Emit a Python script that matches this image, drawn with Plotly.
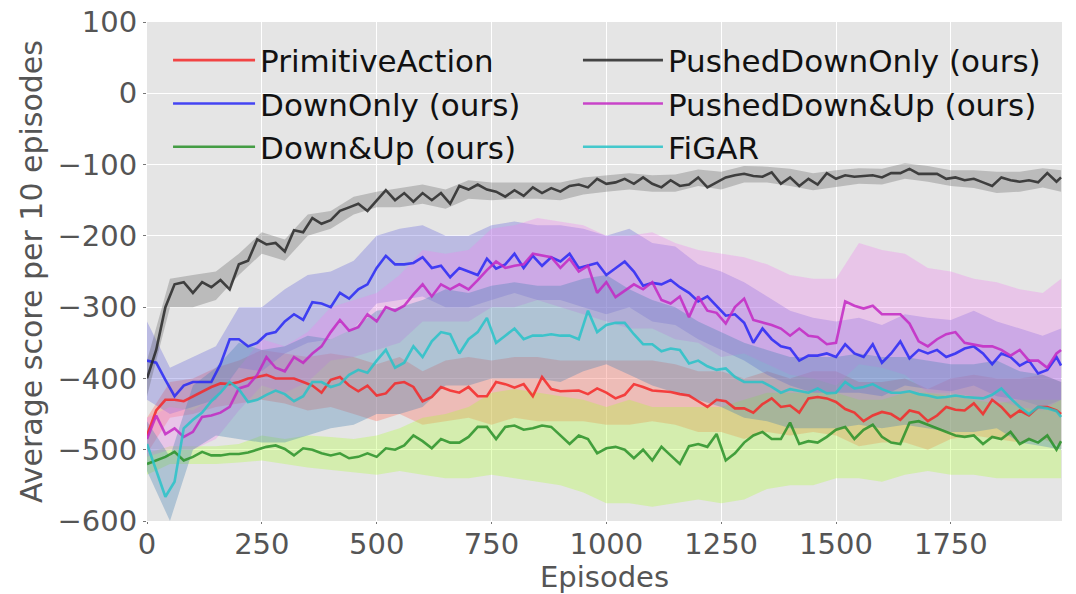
import plotly.graph_objects as go

# ---------------- data ----------------
EPISODES = list(range(0, 1981, 20)) + [1990]
BAND_EPISODES = list(range(0, 1951, 50)) + [1990]

SERIES_NAMES = ["PrimitiveAction", "DownOnly (ours)", "Down&Up (ours)",
                "PushedDownOnly (ours)", "PushedDown&Up (ours)", "FiGAR"]

primitive_action = [
    -480, -445, -430, -430, -432, -425, -418, -412, -407, -408, -405, -400, -398, -395, -400, -400, -400, -405, -410, -420, -402, -398, -410, -418, -410, -424,
    -421, -407, -405, -412, -432, -426, -412, -417, -420, -412, -425, -425, -405, -408, -413, -408, -425, -398, -415, -418, -417, -417, -422, -414, -420,
    -428, -423, -408, -412, -417, -418, -419, -422, -424, -432, -440, -430, -432, -442, -442, -448, -436, -428, -440, -438, -448, -428, -426, -428, -433,
    -443, -448, -460, -452, -447, -450, -458, -445, -448, -460, -452, -440, -444, -445, -435, -450, -430, -440, -454, -445, -452, -440, -440, -445, -450,
]
down_only = [
    -375, -378, -402, -425, -410, -405, -405, -405, -380, -345, -345, -355, -350, -338, -335, -320, -310, -318, -293, -295, -300, -280, -288, -275, -268, -245,
    -228, -240, -240, -238, -230, -245, -242, -258, -245, -250, -255, -232, -246, -240, -225, -245, -228, -242, -230, -236, -225, -245, -242, -238, -255,
    -245, -236, -250, -270, -266, -268, -262, -272, -280, -292, -285, -298, -312, -310, -322, -350, -330, -345, -355, -358, -375, -368, -368, -365, -370,
    -352, -365, -370, -352, -378, -365, -348, -372, -360, -365, -360, -370, -365, -358, -355, -365, -380, -365, -370, -382, -375, -393, -388, -370, -382,
]
down_up = [
    -520, -515, -510, -503, -515, -510, -503, -508, -508, -506, -506, -504, -500, -496, -494, -499, -508, -498, -500, -505, -508, -505, -512, -510, -505, -510,
    -498, -500, -494, -480, -488, -498, -485, -490, -490, -482, -468, -468, -485, -468, -466, -472, -470, -466, -468, -480, -492, -480, -485, -505, -498,
    -496, -500, -512, -500, -515, -496, -508, -520, -495, -492, -496, -478, -515, -505, -490, -480, -475, -485, -485, -462, -492, -488, -490, -482, -472,
    -468, -485, -472, -465, -482, -490, -492, -462, -460, -465, -470, -475, -480, -482, -480, -492, -482, -485, -475, -492, -485, -490, -480, -500, -488,
]
pushed_down_only = [
    -400, -360, -300, -268, -265, -280, -265, -272, -262, -275, -240, -235, -205, -212, -210, -222, -192, -195, -175, -183, -178, -165, -160, -155, -165, -150,
    -136, -150, -140, -152, -140, -150, -140, -155, -130, -135, -128, -135, -138, -145, -136, -144, -132, -140, -133, -138, -130, -128, -132, -120, -127,
    -125, -120, -127, -118, -127, -132, -122, -130, -128, -118, -132, -125, -118, -115, -113, -116, -117, -111, -127, -118, -130, -120, -128, -112, -120,
    -115, -117, -116, -115, -118, -112, -112, -106, -113, -113, -113, -120, -118, -122, -120, -125, -130, -118, -122, -124, -122, -125, -112, -124, -118,
]
pushed_down_up = [
    -485, -452, -478, -470, -482, -475, -454, -452, -448, -440, -414, -410, -395, -370, -385, -390, -370, -378, -365, -355, -335, -318, -333, -328, -310, -320,
    -300, -305, -298, -282, -268, -285, -268, -275, -268, -275, -262, -248, -236, -245, -242, -240, -225, -228, -230, -245, -232, -250, -242, -280, -265,
    -286, -277, -268, -275, -265, -290, -295, -285, -314, -285, -305, -308, -323, -300, -288, -318, -321, -325, -330, -340, -330, -340, -342, -352, -350,
    -292, -298, -302, -298, -310, -310, -310, -323, -348, -355, -345, -338, -335, -350, -352, -355, -355, -360, -368, -360, -375, -375, -385, -365, -360,
]
figar = [
    -492, -530, -566, -545, -470, -458, -448, -432, -420, -405, -415, -433, -430, -423, -417, -422, -432, -425, -405, -405, -412, -408, -395, -388, -392, -375,
    -360, -385, -378, -355, -370, -348, -335, -338, -365, -345, -335, -315, -350, -340, -330, -345, -340, -340, -338, -340, -340, -345, -305, -335, -325,
    -322, -322, -338, -352, -352, -362, -358, -360, -379, -375, -383, -388, -386, -398, -405, -405, -405, -412, -420, -415, -418, -420, -414, -421, -420,
    -405, -414, -412, -408, -415, -420, -420, -418, -422, -424, -427, -426, -424, -426, -427, -428, -423, -414, -428, -440, -450, -440, -442, -446, -454,
]

# confidence bands (lower, upper) at BAND_EPISODES
primitive_action_low = [-505, -455, -450, -440, -435, -430, -435, -445, -440, -450, -460, -450, -465, -460, -455, -465, -455, -460, -460, -460, -465,
                        -465, -460, -465, -475, -475, -485, -475, -480, -475, -480, -495, -490, -490, -500, -485, -480, -485, -490, -485, -495]
primitive_action_high = [-455, -405, -400, -385, -375, -360, -365, -370, -365, -370, -380, -370, -390, -375, -370, -375, -370, -370, -375, -375, -375,
                         -375, -375, -380, -390, -390, -400, -390, -400, -390, -390, -405, -405, -400, -415, -400, -395, -400, -400, -395, -405]
down_only_low = [-430, -450, -440, -430, -385, -390, -365, -350, -345, -330, -295, -290, -285, -300, -300, -290, -280, -290, -290, -300, -310,
                 -300, -320, -325, -345, -360, -375, -395, -410, -420, -420, -420, -425, -410, -415, -418, -410, -425, -430, -440, -430]
down_only_high = [-320, -385, -370, -355, -300, -300, -275, -255, -250, -235, -200, -190, -185, -200, -200, -185, -180, -185, -185, -190, -200,
                  -190, -210, -215, -240, -250, -265, -285, -305, -315, -320, -315, -325, -310, -315, -318, -305, -320, -330, -340, -330]
down_up_low = [-535, -520, -520, -520, -518, -515, -520, -525, -528, -532, -535, -530, -535, -540, -540, -535, -540, -545, -550, -560, -575,
               -575, -580, -575, -570, -575, -570, -555, -550, -550, -540, -540, -545, -535, -530, -535, -535, -540, -540, -540, -540]
down_up_high = [-505, -495, -495, -495, -492, -480, -485, -480, -482, -485, -480, -470, -455, -450, -440, -420, -415, -420, -425, -430, -440,
                -430, -440, -440, -440, -440, -430, -420, -420, -420, -420, -430, -430, -420, -420, -425, -430, -435, -430, -430, -430]
pushed_down_only_low = [-425, -300, -300, -290, -255, -225, -235, -200, -190, -170, -160, -160, -155, -162, -148, -150, -148, -148, -150, -142, -138,
                        -135, -138, -138, -130, -135, -125, -125, -130, -136, -132, -127, -128, -120, -124, -130, -133, -140, -138, -132, -138]
pushed_down_only_high = [-375, -260, -255, -250, -225, -195, -205, -170, -165, -145, -138, -133, -128, -135, -122, -125, -125, -124, -125, -118, -115,
                         -112, -115, -114, -107, -110, -102, -103, -106, -112, -108, -105, -106, -98, -102, -108, -108, -110, -110, -105, -108]
pushed_down_up_low = [-510, -500, -500, -485, -445, -410, -420, -405, -375, -370, -360, -350, -320, -320, -320, -300, -300, -290, -300, -310, -320,
                      -330, -330, -345, -350, -370, -365, -380, -395, -400, -410, -380, -385, -395, -420, -420, -425, -430, -440, -445, -430]
pushed_down_up_high = [-455, -440, -445, -425, -385, -345, -355, -335, -300, -290, -280, -255, -220, -225, -220, -190, -185, -175, -180, -185, -200,
                       -200, -195, -210, -220, -225, -230, -240, -255, -260, -260, -210, -220, -225, -245, -250, -260, -265, -275, -280, -260]
figar_low = [-530, -600, -500, -480, -485, -490, -490, -480, -470, -465, -450, -450, -440, -410, -410, -400, -400, -400, -405, -390, -380,
             -395, -410, -420, -430, -440, -455, -460, -470, -470, -470, -465, -470, -465, -470, -475, -475, -470, -490, -495, -500]
figar_high = [-460, -510, -410, -385, -350, -360, -355, -340, -345, -330, -305, -300, -290, -275, -280, -270, -265, -270, -270, -260, -255,
              -275, -290, -300, -320, -335, -350, -360, -370, -370, -370, -365, -370, -370, -375, -380, -380, -375, -390, -395, -405]

Y_TICKS = [-600, -500, -400, -300, -200, -100, 0, 100]
Y_TICK_TEXT = ["\u2212600", "\u2212500", "\u2212400", "\u2212300", "\u2212200", "\u2212100", "0", "100"]
X_TICKS = [0, 250, 500, 750, 1000, 1250, 1500, 1750]
X_TICK_TEXT = ["0", "250", "500", "750", "1000", "1250", "1500", "1750"]

# ---------------- styling ----------------
LINE_COLORS = ["rgba(245,40,40,0.85)", "rgba(40,40,245,0.85)", "rgba(40,145,40,0.85)",
               "rgba(40,40,40,0.85)", "rgba(195,40,195,0.85)", "rgba(40,195,200,0.85)"]
BAND_COLORS = ["rgba(250,128,114,0.40)", "rgba(90,90,220,0.30)", "rgba(173,255,47,0.30)",
               "rgba(90,90,90,0.30)", "rgba(238,130,238,0.32)", "rgba(70,130,180,0.34)"]
LEGEND_RANK = [1, 3, 5, 2, 4, 6]

lines = [primitive_action, down_only, down_up, pushed_down_only, pushed_down_up, figar]
lows = [primitive_action_low, down_only_low, down_up_low, pushed_down_only_low, pushed_down_up_low, figar_low]
highs = [primitive_action_high, down_only_high, down_up_high, pushed_down_only_high, pushed_down_up_high, figar_high]

fig = go.Figure()

for i in range(6):
    fig.add_trace(go.Scatter(
        x=BAND_EPISODES + BAND_EPISODES[::-1],
        y=highs[i] + lows[i][::-1],
        fill="toself", fillcolor=BAND_COLORS[i],
        line=dict(width=0), mode="lines",
        hoverinfo="skip", showlegend=False))

for i in range(6):
    fig.add_trace(go.Scatter(
        x=EPISODES, y=lines[i], mode="lines", name=SERIES_NAMES[i],
        line=dict(color=LINE_COLORS[i], width=2.6),
        legend="legend" if i < 3 else "legend2",
        legendgroup=SERIES_NAMES[i], legendrank=LEGEND_RANK[i]))

FONT = "DejaVu Sans"
legend_common = dict(
    orientation="v", bgcolor="rgba(0,0,0,0)", borderwidth=0,
    font=dict(family=FONT, size=31, color="#111111"),
    tracegroupgap=11, xanchor="left", yanchor="top",
    traceorder="normal",
)

fig.update_layout(
    width=1076, height=594,
    margin=dict(l=147, r=14, t=22, b=73, autoexpand=False),
    paper_bgcolor="white", plot_bgcolor="#e5e5e5",
    font=dict(family=FONT, color="#555555"),
    legend=dict(x=0.023, y=0.977, itemwidth=82, **legend_common),
    legend2=dict(x=0.471, y=0.977, itemwidth=80, **legend_common),
    xaxis=dict(
        range=[0, 1992], tickvals=X_TICKS, ticktext=X_TICK_TEXT, automargin=False,
        showgrid=True, gridcolor="white", gridwidth=1.2, zeroline=False,
        ticks="outside", ticklen=2, tickcolor="#777777", ticklabelstandoff=-5,
        ticklabeloverflow="allow",
        tickfont=dict(family=FONT, size=29, color="#555555"),
        title=dict(text="Episodes", font=dict(family=FONT, size=29, color="#555555"), standoff=7),
    ),
    yaxis=dict(
        range=[-600, 100], tickvals=Y_TICKS, ticktext=Y_TICK_TEXT, automargin=False,
        showgrid=True, gridcolor="white", gridwidth=1.2, zeroline=False,
        ticks="outside", ticklen=3, tickcolor="#777777", ticklabeloverflow="allow",
        tickfont=dict(family=FONT, size=29, color="#555555"),
        title=dict(text="Average score per 10 episodes", font=dict(family=FONT, size=30, color="#555555"), standoff=6),
    ),
)

# remove the browser's default 8 px body margin so the figure fills the window
fig.write_html(
    "out.html",
    config={"displayModeBar": False},
    post_script="document.body.style.margin='0px';document.body.style.overflow='hidden';",
)
